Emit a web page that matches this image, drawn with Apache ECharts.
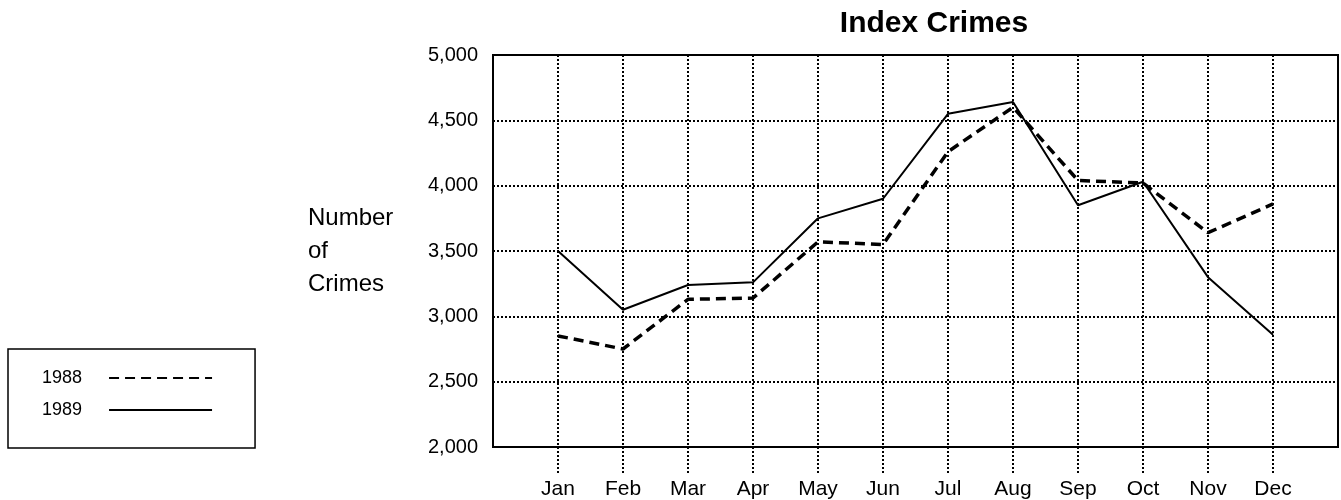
<!DOCTYPE html>
<html>
<head>
<meta charset="utf-8">
<title>Index Crimes</title>
<script src="https://cdn.jsdelivr.net/npm/echarts@6/dist/echarts.min.js"></script>
<style>
  html, body { margin: 0; padding: 0; background: #fff; }
  #chart { width: 1341px; height: 500px; }
</style>
</head>
<body>
<div id="chart"></div>
<script>
// values
const months = ['Jan', 'Feb', 'Mar', 'Apr', 'May', 'Jun', 'Jul', 'Aug', 'Sep', 'Oct', 'Nov', 'Dec']
const crimes1988 = [2850, 2750, 3130, 3140, 3570, 3550, 4260, 4600, 4040, 4020, 3640, 3860]
const crimes1989 = [3500, 3050, 3240, 3260, 3750, 3900, 4550, 4640, 3850, 4030, 3300, 2860]
const yMin = 2000
const yMax = 5000
const yStep = 500

const font = 'Liberation Sans, Arial, Helvetica, sans-serif'
const ink = '#000'

// one empty slot at each end, so Jan and Dec sit one step in from the frame
const cats = [''].concat(months, [''])
const pad = (arr) => [null].concat(arr, [null])
const inner = (i) => i > 0 && i < cats.length - 1

const chart = echarts.init(document.getElementById('chart'))

const option = {
  backgroundColor: '#fff',
  animation: false,
  title: {
    text: 'Index Crimes',
    left: 929,
    top: 4,
    textAlign: 'center',
    textStyle: { fontFamily: font, fontSize: 30, fontWeight: 'bold', color: ink },
  },
  legend: {
    orient: 'vertical',
    left: 8,
    top: 349,
    align: 'right',
    itemWidth: 103,
    itemHeight: 14,
    itemGap: 14,
    padding: [20, 42, 29, 34],
    borderColor: ink,
    borderWidth: 1.5,
    // hide the marker dot, keep only the line sample
    itemStyle: { opacity: 0 },
    textStyle: { fontFamily: font, fontSize: 18, color: ink, padding: [0, 22, 0, 0] },
    data: ['1988', '1989'],
  },
  grid: {
    left: 493,
    top: 55,
    right: 1,
    bottom: 53,
    show: true,
    borderColor: ink,
    borderWidth: 2,
    containLabel: false,
  },
  xAxis: {
    type: 'category',
    data: cats,
    boundaryGap: false,
    axisLine: { lineStyle: { color: ink, width: 2 } },
    axisTick: {
      show: true,
      length: 27,
      interval: (i) => inner(i),
      lineStyle: { color: ink, width: 2, type: [2, 2] },
    },
    axisLabel: {
      margin: 32,
      interval: 0,
      fontFamily: font,
      fontSize: 21,
      color: ink,
    },
    splitLine: {
      show: true,
      interval: (i) => inner(i),
      lineStyle: { color: ink, width: 2, type: [2, 2] },
    },
  },
  yAxis: {
    type: 'value',
    min: yMin,
    max: yMax,
    interval: yStep,
    name: 'Number\nof\nCrimes',
    nameLocation: 'middle',
    nameRotate: 0,
    nameGap: 185,
    nameTextStyle: {
      fontFamily: font,
      fontSize: 24,
      color: ink,
      align: 'left',
      lineHeight: 33,
      padding: [20, 0, 0, 0],
    },
    axisLine: { show: true, lineStyle: { color: ink, width: 2 } },
    axisTick: { show: false },
    axisLabel: {
      margin: 15,
      fontFamily: font,
      fontSize: 20,
      color: ink,
      formatter: (v) => v.toLocaleString('en-US'),
    },
    splitLine: {
      show: true,
      lineStyle: { color: ink, width: 2, type: [2, 2] },
    },
  },
  series: [
    {
      name: '1988',
      type: 'line',
      data: pad(crimes1988),
      symbol: 'none',
      lineStyle: { color: ink, width: 3.5, type: [10, 6] },
      itemStyle: { color: ink },
      z: 3,
    },
    {
      name: '1989',
      type: 'line',
      data: pad(crimes1989),
      symbol: 'none',
      lineStyle: { color: ink, width: 2 },
      itemStyle: { color: ink },
      z: 4,
    },
  ],
}

chart.setOption(option)
</script>
</body>
</html>
